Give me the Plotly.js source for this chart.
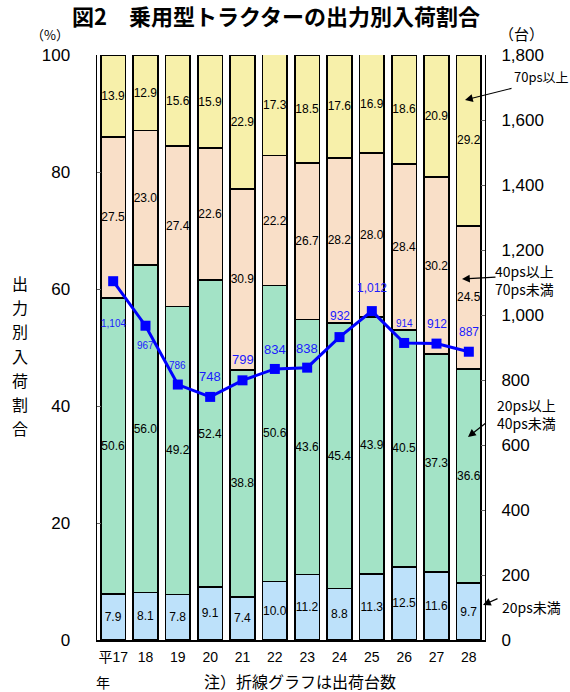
<!DOCTYPE html>
<html>
<head>
<meta charset="utf-8">
<script src="https://cdn.plot.ly/plotly-3.0.1.min.js"></script>
<style>html,body{margin:0;padding:0;background:#fff;}#chart{width:570px;height:692px;}</style>
</head>
<body>
<div id="chart"></div>
<script>
// ---- data ----
const years = ['平17','18','19','20','21','22','23','24','25','26','27','28'];
const under20 = [7.9, 8.1, 7.8, 9.1, 7.4, 10.0, 11.2, 8.8, 11.3, 12.5, 11.6, 9.7];
const ps20to40 = [50.6, 56.0, 49.2, 52.4, 38.8, 50.6, 43.6, 45.4, 43.9, 40.5, 37.3, 36.6];
const ps40to70 = [27.5, 23.0, 27.4, 22.6, 30.9, 22.2, 26.7, 28.2, 28.0, 28.4, 30.2, 24.5];
const over70 = [13.9, 12.9, 15.6, 15.9, 22.9, 17.3, 18.5, 17.6, 16.9, 18.6, 20.9, 29.2];
const shipments = [1104, 967, 786, 748, 799, 834, 838, 932, 1012, 914, 912, 887];

// ---- label styling (not data) ----
const lineLabelShift = [-42, -20, 19, 20, 21, 19, 19, 21, 23, 19, 20, 20];
const lineLabelSize = [10, 10, 10, 13, 13, 13, 13, 12, 12, 10, 12, 12];

const FONT = 'Liberation Sans, Noto Sans CJK JP, sans-serif';
const JFONT = 'Noto Sans CJK JP, sans-serif';

function barTrace(name, vals, color) {
  return {
    type: 'bar', name: name, x: years, y: vals,
    marker: {color: color, line: {color: '#000', width: 1.6}},
    width: 0.77,
    text: vals.map(v => v.toFixed(1)),
    textposition: 'inside', insidetextanchor: 'middle',
    textangle: 0, constraintext: 'none',
    textfont: {family: FONT, size: 12, color: '#000'},
    hoverinfo: 'skip'
  };
}

const traces = [
  barTrace('20ps未満', under20, '#BDE1FA'),
  barTrace('20ps以上40ps未満', ps20to40, '#A3E3C6'),
  barTrace('40ps以上70ps未満', ps40to70, '#F9DFC8'),
  barTrace('70ps以上', over70, '#F7F0AA'),
  {
    type: 'scatter', mode: 'lines+markers', x: years, y: shipments, yaxis: 'y2',
    line: {color: '#0000FF', width: 3},
    marker: {symbol: 'square', size: 10, color: '#0000FF'},
    hoverinfo: 'skip'
  }
];

const annotations = [];
shipments.forEach((v, i) => {
  annotations.push({
    x: i, y: v, xref: 'x', yref: 'y2', showarrow: false,
    text: v.toLocaleString('en-US'), yshift: lineLabelShift[i],
    font: {family: FONT, size: lineLabelSize[i], color: '#1a1aff'}
  });
});

function note(text, x, y, size, extra) {
  return Object.assign({
    text: text, xref: 'paper', yref: 'paper',
    x: (x - 97) / 388, y: (640 - y) / 585,
    xanchor: 'center', yanchor: 'middle', showarrow: false,
    font: {family: JFONT, size: size, color: '#000'}
  }, extra || {});
}
function arrow(hx, hy, tx, ty) {
  return {
    text: '', xref: 'paper', yref: 'paper',
    x: (hx - 97) / 388, y: (640 - hy) / 585,
    ax: tx - hx, ay: ty - hy, showarrow: true,
    arrowhead: 2, arrowsize: 1.3, arrowwidth: 1.2, arrowcolor: '#000'
  };
}

const yTitleChars = ['出','力','別','入','荷','割','合'];
yTitleChars.forEach((c, i) => annotations.push(note(c, 20, 283 + i * 24.2, 16)));

annotations.push(
  note('（%）', 50, 35, 13),
  note('（台）', 521, 34, 15),
  note('年', 103, 682, 14),
  note('注）折線グラフは出荷台数', 300, 681, 16),
  note('70ps以上', 541, 77, 13),
  arrow(465, 100, 513, 88),
  note('40ps以上<br>70ps未満', 524, 280, 14),
  arrow(462, 279, 497, 277),
  note('20ps以上<br>40ps未満', 526, 414, 14),
  arrow(468, 437, 487, 422),
  note('20ps未満', 531, 607, 14),
  arrow(483, 605, 499, 598)
);

const layout = {
  width: 570, height: 692,
  margin: {l: 97, r: 85, t: 55, b: 52},
  paper_bgcolor: '#fff', plot_bgcolor: '#fff',
  barmode: 'stack', showlegend: false,
  uniformtext: {mode: 'show', minsize: 12},
  font: {family: FONT, color: '#000'},
  title: {
    text: '<b>図2　乗用型トラクターの出力別入荷割合</b>',
    font: {family: JFONT, size: 22, color: '#000'},
    x: 276 / 570, xref: 'container', xanchor: 'center',
    y: 1 - 17 / 692, yref: 'container', yanchor: 'middle'
  },
  xaxis: {
    type: 'category', range: [-0.5, 11.5],
    showline: true, linecolor: '#000', linewidth: 1.5,
    ticks: '', ticklabelstandoff: 4,
    tickfont: {family: FONT, size: 14, color: '#000'},
    showgrid: false, zeroline: false
  },
  yaxis: {
    range: [0, 100], dtick: 20,
    showline: true, linecolor: '#000', linewidth: 1.5,
    ticks: 'inside', ticklen: 4, tickcolor: '#666',
    ticklabelstandoff: 22,
    tickfont: {family: FONT, size: 17, color: '#000'},
    showgrid: false, zeroline: false
  },
  yaxis2: {
    overlaying: 'y', side: 'right', range: [0, 1800], dtick: 200,
    tickformat: ',',
    showline: true, linecolor: '#000', linewidth: 1,
    ticks: 'inside', ticklen: 4, tickcolor: '#666',
    ticklabelstandoff: 12,
    tickfont: {family: FONT, size: 17, color: '#000'},
    showgrid: false, zeroline: false
  },
  annotations: annotations
};

Plotly.newPlot('chart', traces, layout, {staticPlot: true, displayModeBar: false});
</script>
</body>
</html>
